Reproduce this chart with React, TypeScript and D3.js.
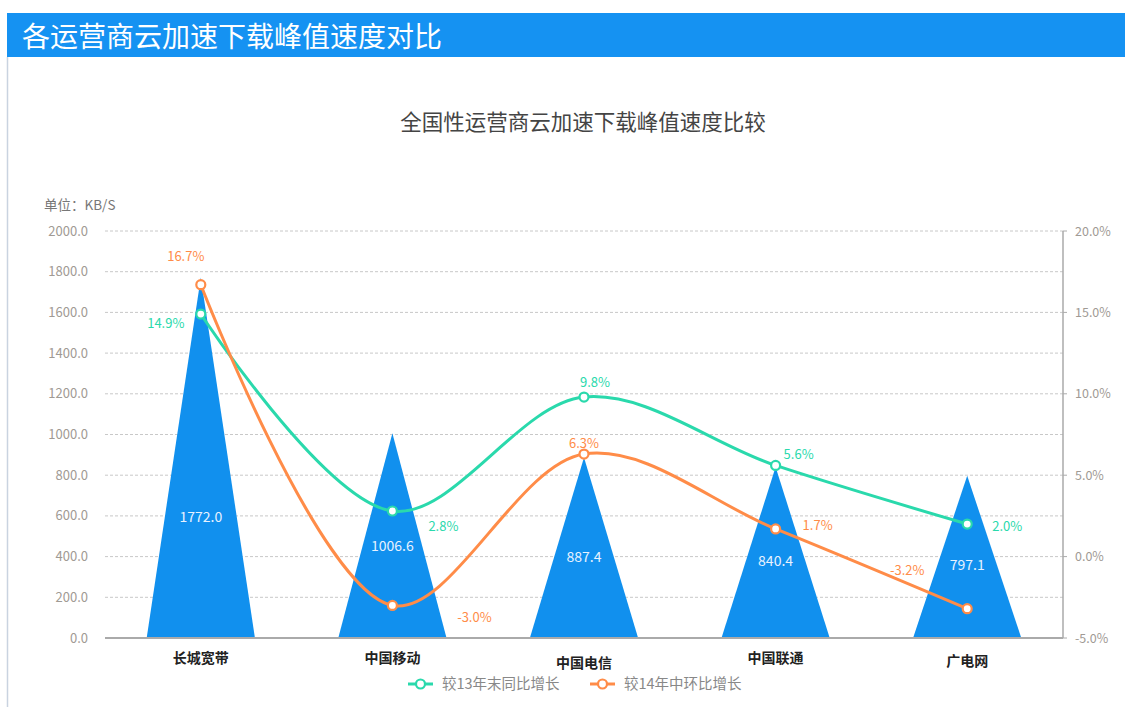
import React from "react"
import * as d3 from "d3"

// chart data
const categories = ["长城宽带", "中国移动", "中国电信", "中国联通", "广电网"]
const peakSpeed = [1772.0, 1006.6, 887.4, 840.4, 797.1]
const yoyGrowth = [14.9, 2.8, 9.8, 5.6, 2.0]
const momGrowth = [16.7, -3.0, 6.3, 1.7, -3.2]
const seriesNames = ["较13年末同比增长", "较14年中环比增长"]
const leftTicks = [0, 200, 400, 600, 800, 1000, 1200, 1400, 1600, 1800, 2000]
const rightTicks = [-5, 0, 5, 10, 15, 20]

// label placement around each point (dx, dy relative to the point)
const yoyLabelOffset = [[-35, 9], [51, 15], [11, -15], [23, -11], [40, 2]]
const momLabelOffset = [[-15, -28], [82, 12], [0, -11], [42, -3], [-60, -38]]
const catLabelDy = [0, 0, 5, 0, 3]

const W = 1125
const H = 707
const FONT = "'Noto Sans CJK SC', 'Noto Sans', sans-serif"
const BLUE = "#1190EE"
const GREEN = "#2AD9AC"
const ORANGE = "#FF8C48"

export default function App() {
  const left = 105
  const right = 1063
  const top = 231
  const bottom = 638

  const x = d3.scaleBand<string>().domain(categories).range([left, right]).padding(0)
  const yL = d3.scaleLinear().domain([0, 2000]).range([bottom, top])
  const yR = d3.scaleLinear().domain([-5, 20]).range([bottom, top])
  const cx = (i: number) => (x(categories[i]) as number) + x.bandwidth() / 2
  const barW = x.bandwidth() * 0.565

  const line = d3
    .line<number>()
    .x((_, i) => cx(i))
    .y((d) => yR(d))
    .curve(d3.curveCatmullRom.alpha(0.5))

  const series = [
    { name: seriesNames[0], values: yoyGrowth, color: GREEN, offs: yoyLabelOffset },
    { name: seriesNames[1], values: momGrowth, color: ORANGE, offs: momLabelOffset },
  ]

  return (
    <svg
      width={W}
      height={H}
      style={{ position: "absolute", left: 0, top: 0, fontFamily: FONT }}
    >
      <rect x={0} y={0} width={W} height={H} fill="#fff" />
      {/* header bar */}
      <rect x={7} y={13} width={W - 7} height={44} fill="#1592F2" />
      <text x={22} y={47} fill="#fff" fontSize={28}>
        各运营商云加速下载峰值速度对比
      </text>
      <line x1={7.5} x2={7.5} y1={57} y2={H} stroke="#c9d3e0" strokeWidth={1.5} />

      {/* chart title */}
      <text x={583} y={130} textAnchor="middle" fontSize={21.5} fill="#444">
        全国性运营商云加速下载峰值速度比较
      </text>
      <text x={44} y={210} fontSize={13.5} fill="#777">
        单位：KB/S
      </text>

      {/* grid */}
      {leftTicks.slice(1).map((t) => (
        <line
          key={"g" + t}
          x1={left}
          x2={right}
          y1={yL(t)}
          y2={yL(t)}
          stroke="#c8c8c8"
          strokeDasharray="3,2"
        />
      ))}
      {leftTicks.map((t) => (
        <text key={"l" + t} x={88} y={yL(t) + 4.5} textAnchor="end" fontSize={13} fill="#a09a94">
          {t.toFixed(1)}
        </text>
      ))}
      {rightTicks.map((t) => (
        <g key={"r" + t}>
          <line x1={right} x2={right + 4} y1={yR(t)} y2={yR(t)} stroke="#aaa" />
          <text x={1075} y={yR(t) + 4.5} fontSize={12.5} fill="#a09a94">
            {t.toFixed(1)}%
          </text>
        </g>
      ))}

      {/* triangle bars */}
      {peakSpeed.map((v, i) => {
        const c = cx(i)
        const path = `M${c - barW / 2},${bottom}L${c},${yL(v)}L${c + barW / 2},${bottom}Z`
        return (
          <g key={"b" + i}>
            <path d={path} fill={BLUE} />
            <text
              x={c}
              y={yL(Math.min(v * 0.45, 595)) + 5}
              textAnchor="middle"
              fontSize={14}
              fill="#e8f2ff"
            >
              {v.toFixed(1)}
            </text>
          </g>
        )
      })}

      {/* axes */}
      <line x1={left} x2={right} y1={bottom} y2={bottom} stroke="#aaa" strokeWidth={2} />
      <line x1={right} x2={right} y1={top} y2={bottom} stroke="#aaa" strokeWidth={1.5} />
      {categories.map((c, i) => (
        <text
          key={"c" + i}
          x={cx(i)}
          y={663 + catLabelDy[i]}
          textAnchor="middle"
          fontSize={14}
          fontWeight={600}
          fill="#222"
        >
          {c}
        </text>
      ))}

      {/* lines */}
      {series.map((s) => (
        <g key={s.name}>
          <path d={line(s.values) || ""} fill="none" stroke={s.color} strokeWidth={3} />
          {s.values.map((v, i) => (
            <circle
              key={i}
              cx={cx(i)}
              cy={yR(v)}
              r={4.5}
              fill="#fff"
              stroke={s.color}
              strokeWidth={2.2}
            />
          ))}
          {s.values.map((v, i) => (
            <text
              key={"t" + i}
              x={cx(i) + s.offs[i][0]}
              y={yR(v) + s.offs[i][1] + 4.5}
              textAnchor="middle"
              fontSize={13}
              fill={s.color}
            >
              {v.toFixed(1)}%
            </text>
          ))}
        </g>
      ))}

      {/* legend */}
      {series.map((s, k) => {
        const lx = 408 + k * 182
        return (
          <g key={"lg" + k}>
            <line x1={lx} x2={lx + 25} y1={684} y2={684} stroke={s.color} strokeWidth={3} />
            <circle cx={lx + 12.5} cy={684} r={4.5} fill="#fff" stroke={s.color} strokeWidth={2.2} />
            <text x={lx + 34} y={689} fontSize={14.5} fill="#888">
              {s.name}
            </text>
          </g>
        )
      })}
    </svg>
  )
}
